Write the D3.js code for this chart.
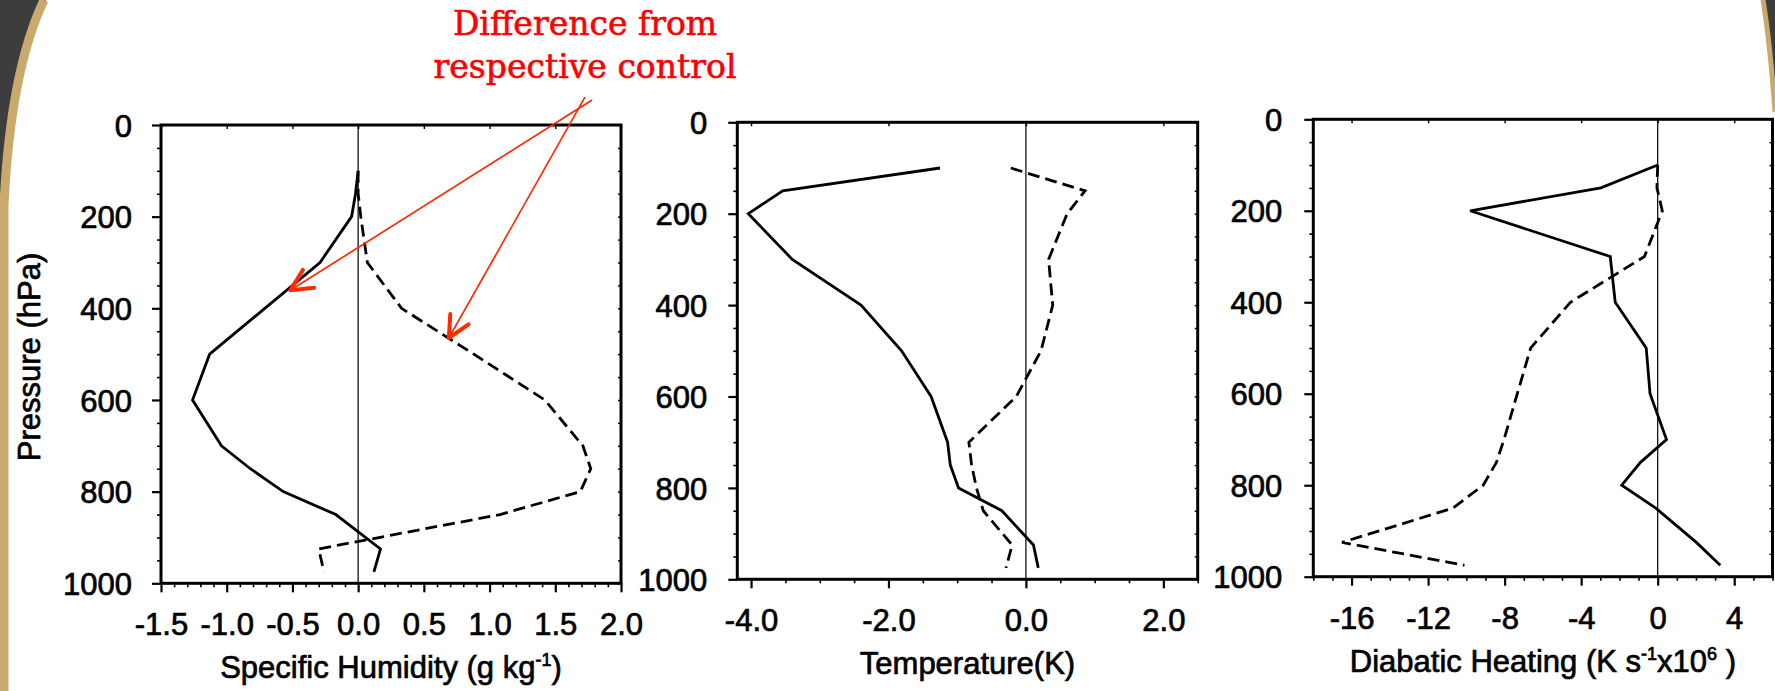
<!DOCTYPE html>
<html>
<head>
<meta charset="utf-8">
<script src="https://cdn.jsdelivr.net/npm/d3@7"></script>
<style>
  body { margin: 0; background: #ffffff; }
  svg { display: block; }
  text { font-family: "Liberation Sans", Arial, Helvetica, sans-serif; fill: #000; }
  .heavy { stroke: #000; stroke-width: 0.7px; }
</style>
</head>
<body>
<svg id="fig" width="1775" height="691"></svg>
<script>
// Pressure levels (hPa) shared by all profiles
const levels = [100, 150, 200, 300, 400, 500, 600, 700, 750, 800, 850, 925, 975];

// Specific humidity difference (g/kg)
const humiditySolid  = [0.00, -0.02, -0.05, -0.29, -0.71, -1.13, -1.26, -1.04, -0.82, -0.57, -0.17, 0.17, 0.12];
const humidityDashed = [0.00, 0.00, 0.02, 0.07, 0.33, 0.88, 1.42, 1.71, 1.77, 1.69, 1.08, -0.30, -0.26];

// Temperature difference (K)
const tempSolid  = [-1.25, -3.54, -4.04, -3.40, -2.40, -1.81, -1.38, -1.14, -1.10, -0.98, -0.35, 0.11, 0.18];
const tempDashed = [-0.22, 0.86, 0.60, 0.33, 0.39, 0.22, -0.14, -0.83, -0.79, -0.72, -0.62, -0.20, -0.29];

// Diabatic heating difference (K s^-1 x 10^6)
const heatSolid  = [0.0, -2.97, -9.8, -2.48, -2.22, -0.6, -0.4, 0.46, -0.9, -1.88, -0.1, 2.02, 3.27];
const heatDashed = [0.0, -0.04, 0.24, -0.69, -4.56, -6.64, -7.34, -8.03, -8.43, -9.12, -10.7, -16.5, -10.1];

// Axis ticks
const pressureTicks = [0, 200, 400, 600, 800, 1000];
const humidityTicks = [-1.5, -1.0, -0.5, 0.0, 0.5, 1.0, 1.5, 2.0];
const tempTicks = [-4.0, -2.0, 0.0, 2.0];
const heatTicks = [-16, -12, -8, -4, 0, 4];

const svg = d3.select("#fig");
const FONT = "31px";

// ---- slide frame decoration ----
const frame = svg.append("g");
frame.append("path")
  .attr("d", "M0,0 H46 C26,40 10,100 3,205 L0,215 Z")
  .attr("fill", "#3d3d3d");
frame.append("path")
  .attr("d", "M44,0 C25,40 9,100 4,205 V691")
  .attr("fill", "none").attr("stroke", "#c9a96c").attr("stroke-width", 9);
frame.append("path")
  .attr("d", "M1775,0 H1764 C1769,30 1773,70 1775,110 Z")
  .attr("fill", "#3d3d3d");
frame.append("path")
  .attr("d", "M1763,0 C1768,30 1772,70 1775,112")
  .attr("fill", "none").attr("stroke", "#c9a96c").attr("stroke-width", 5);

function toPoints(vals) {
  return levels.map((p, i) => ({ p: p, v: vals[i] }));
}

function drawPanel(cfg) {
  const x = d3.scaleLinear().domain(cfg.domain).range([cfg.left, cfg.right]);
  const y = d3.scaleLinear().domain([0, 1000]).range([cfg.top, cfg.bottom]);
  const g = svg.append("g");

  // zero reference line
  g.append("line")
    .attr("x1", x(0)).attr("x2", x(0))
    .attr("y1", y(0)).attr("y2", y(1000))
    .attr("stroke", "#000").attr("stroke-width", 1.2);

  const line = d3.line().x(d => x(d.v)).y(d => y(d.p));
  g.append("path").datum(toPoints(cfg.solid))
    .attr("d", line).attr("fill", "none")
    .attr("stroke", "#000").attr("stroke-width", 2.8)
    .attr("stroke-linejoin", "miter");
  g.append("path").datum(toPoints(cfg.dashed))
    .attr("d", line).attr("fill", "none")
    .attr("stroke", "#000").attr("stroke-width", 2.8)
    .attr("stroke-dasharray", "12,6");

  const minorX = cfg.minor.filter(v => !cfg.ticks.some(t => Math.abs(t - v) < 1e-9));
  const minorY = d3.range(0, 1001, 50).filter(v => v % 200 !== 0);

  // bottom axis
  const bottom = g.append("g").attr("transform", `translate(0,${cfg.bottom})`);
  bottom.call(d3.axisBottom(x).tickValues(cfg.ticks).tickSize(9).tickSizeOuter(0).tickFormat(cfg.fmt));
  bottom.call(a => a.select(".domain").remove());
  bottom.selectAll(".tick line").attr("stroke-width", 2.2);
  bottom.selectAll(".tick text").attr("y", 52).attr("dy", 0)
    .attr("class", "heavy").style("font-size", FONT);
  const bMinor = g.append("g").attr("transform", `translate(0,${cfg.bottom})`);
  bMinor.call(d3.axisBottom(x).tickValues(minorX).tickSize(4).tickSizeOuter(0).tickFormat(""));
  bMinor.call(a => a.select(".domain").remove());
  bMinor.selectAll(".tick line").attr("stroke-width", 1.6);

  // top axis (small inward ticks)
  const top = g.append("g").attr("transform", `translate(0,${cfg.top})`);
  top.call(d3.axisTop(x).tickValues(cfg.ticks).tickSize(-4).tickSizeOuter(0).tickFormat(""));
  top.call(a => a.select(".domain").remove());
  top.selectAll(".tick line").attr("stroke-width", 1.4);

  // left axis
  const left = g.append("g").attr("transform", `translate(${cfg.left},0)`);
  left.call(d3.axisLeft(y).tickValues(pressureTicks).tickSize(9).tickSizeOuter(0).tickFormat(d3.format("d")));
  left.call(a => a.select(".domain").remove());
  left.selectAll(".tick line").attr("stroke-width", 2.2);
  left.selectAll(".tick text").attr("x", -cfg.labelGap).attr("dy", "0.36em")
    .attr("class", "heavy").style("font-size", FONT);
  const lMinor = g.append("g").attr("transform", `translate(${cfg.left},0)`);
  lMinor.call(d3.axisLeft(y).tickValues(minorY).tickSize(4).tickSizeOuter(0).tickFormat(""));
  lMinor.call(a => a.select(".domain").remove());
  lMinor.selectAll(".tick line").attr("stroke-width", 1.6);

  // right axis (small inward ticks)
  const right = g.append("g").attr("transform", `translate(${cfg.right},0)`);
  right.call(d3.axisRight(y).tickValues(d3.range(0, 1001, 50)).tickSize(-3).tickSizeOuter(0).tickFormat(""));
  right.call(a => a.select(".domain").remove());
  right.selectAll(".tick line").attr("stroke-width", 1.4);

  // plot frame
  g.append("rect")
    .attr("x", cfg.left).attr("y", cfg.top)
    .attr("width", cfg.right - cfg.left).attr("height", cfg.bottom - cfg.top)
    .attr("fill", "none").attr("stroke", "#000").attr("stroke-width", 3);

  // x-axis title; superscripts are raised, the following run drops back
  const t = g.append("text")
    .attr("x", (cfg.left + cfg.right) / 2).attr("y", cfg.bottom + 95)
    .attr("text-anchor", "middle").attr("class", "heavy").style("font-size", FONT);
  let raised = false;
  cfg.title.forEach(part => {
    const span = t.append("tspan").text(part.text);
    if (part.sup) {
      span.attr("dy", -12).style("font-size", "18px");
      raised = true;
    } else if (raised) {
      span.attr("dy", 12);
      raised = false;
    }
  });

  return { x, y };
}

const fmt1 = d => d.toFixed(1);

const p1 = drawPanel({
  left: 161, right: 621, top: 125, bottom: 583.3,
  domain: [-1.5, 2.0], ticks: humidityTicks,
  minor: d3.range(-15, 21).map(i => i / 10),
  fmt: fmt1, labelGap: 29,
  solid: humiditySolid, dashed: humidityDashed,
  title: [{ text: "Specific Humidity (g kg" }, { text: "-1", sup: true }, { text: ")" }]
});

drawPanel({
  left: 737.3, right: 1197.7, top: 122.3, bottom: 579.3,
  domain: [-4.2, 2.5], ticks: tempTicks,
  minor: d3.range(-8, 6).map(i => i / 2),
  fmt: fmt1, labelGap: 30,
  solid: tempSolid, dashed: tempDashed,
  title: [{ text: "Temperature(K)" }]
});

drawPanel({
  left: 1313.3, right: 1772.5, top: 119.3, bottom: 576.7,
  domain: [-18, 6], ticks: heatTicks,
  minor: d3.range(-18, 7),
  fmt: d3.format("d"), labelGap: 31,
  solid: heatSolid, dashed: heatDashed,
  title: [{ text: "Diabatic Heating (K s" }, { text: "-1", sup: true }, { text: "x10" }, { text: "6", sup: true }, { text: " )" }]
});

// plain hyphen minus signs on tick labels
svg.selectAll(".tick text").each(function () {
  const s = d3.select(this);
  s.text(s.text().replace("\u2212", "-"));
});

// pressure axis title
svg.append("text")
  .attr("transform", "translate(29,357) rotate(-90)")
  .attr("text-anchor", "middle").attr("dy", "0.36em")
  .attr("class", "heavy").style("font-size", FONT)
  .text("Pressure (hPa)");

// ---- annotation ----
const note = svg.append("g");
[["Difference from", 35], ["respective control", 78]].forEach(([txt, yy]) => {
  note.append("text")
    .attr("x", 585).attr("y", yy)
    .attr("text-anchor", "middle")
    .style("font-family", "'DejaVu Serif', 'Liberation Serif', serif")
    .style("font-size", "33px").style("fill", "#ff0000")
    .style("stroke", "#ff0000").style("stroke-width", "0.6px")
    .text(txt);
});

// arrows pointing at the two humidity profiles (in panel data coordinates)
const arrows = [
  { from: { v: 1.78, p: -54.5 }, to: { v: -0.516, p: 360.7 } },
  { from: { v: 1.726, p: -60.7 }, to: { v: 0.69, p: 464.8 } }
];
arrows.forEach(a => {
  const x1 = p1.x(a.from.v), y1 = p1.y(a.from.p);
  const x2 = p1.x(a.to.v), y2 = p1.y(a.to.p);
  note.append("line")
    .attr("x1", x1).attr("y1", y1).attr("x2", x2).attr("y2", y2)
    .attr("stroke", "#ff2a00").attr("stroke-width", 1.7);
  const ang = Math.atan2(y1 - y2, x1 - x2);
  const len = 24, spread = 26 * Math.PI / 180;
  const ax = x2 + len * Math.cos(ang - spread), ay = y2 + len * Math.sin(ang - spread);
  const bx = x2 + len * Math.cos(ang + spread), by = y2 + len * Math.sin(ang + spread);
  note.append("path")
    .attr("d", `M${ax},${ay} L${x2},${y2} L${bx},${by}`)
    .attr("fill", "none").attr("stroke", "#ff2a00").attr("stroke-width", 4)
    .attr("stroke-linecap", "round").attr("stroke-linejoin", "round");
});
</script>
</body>
</html>
